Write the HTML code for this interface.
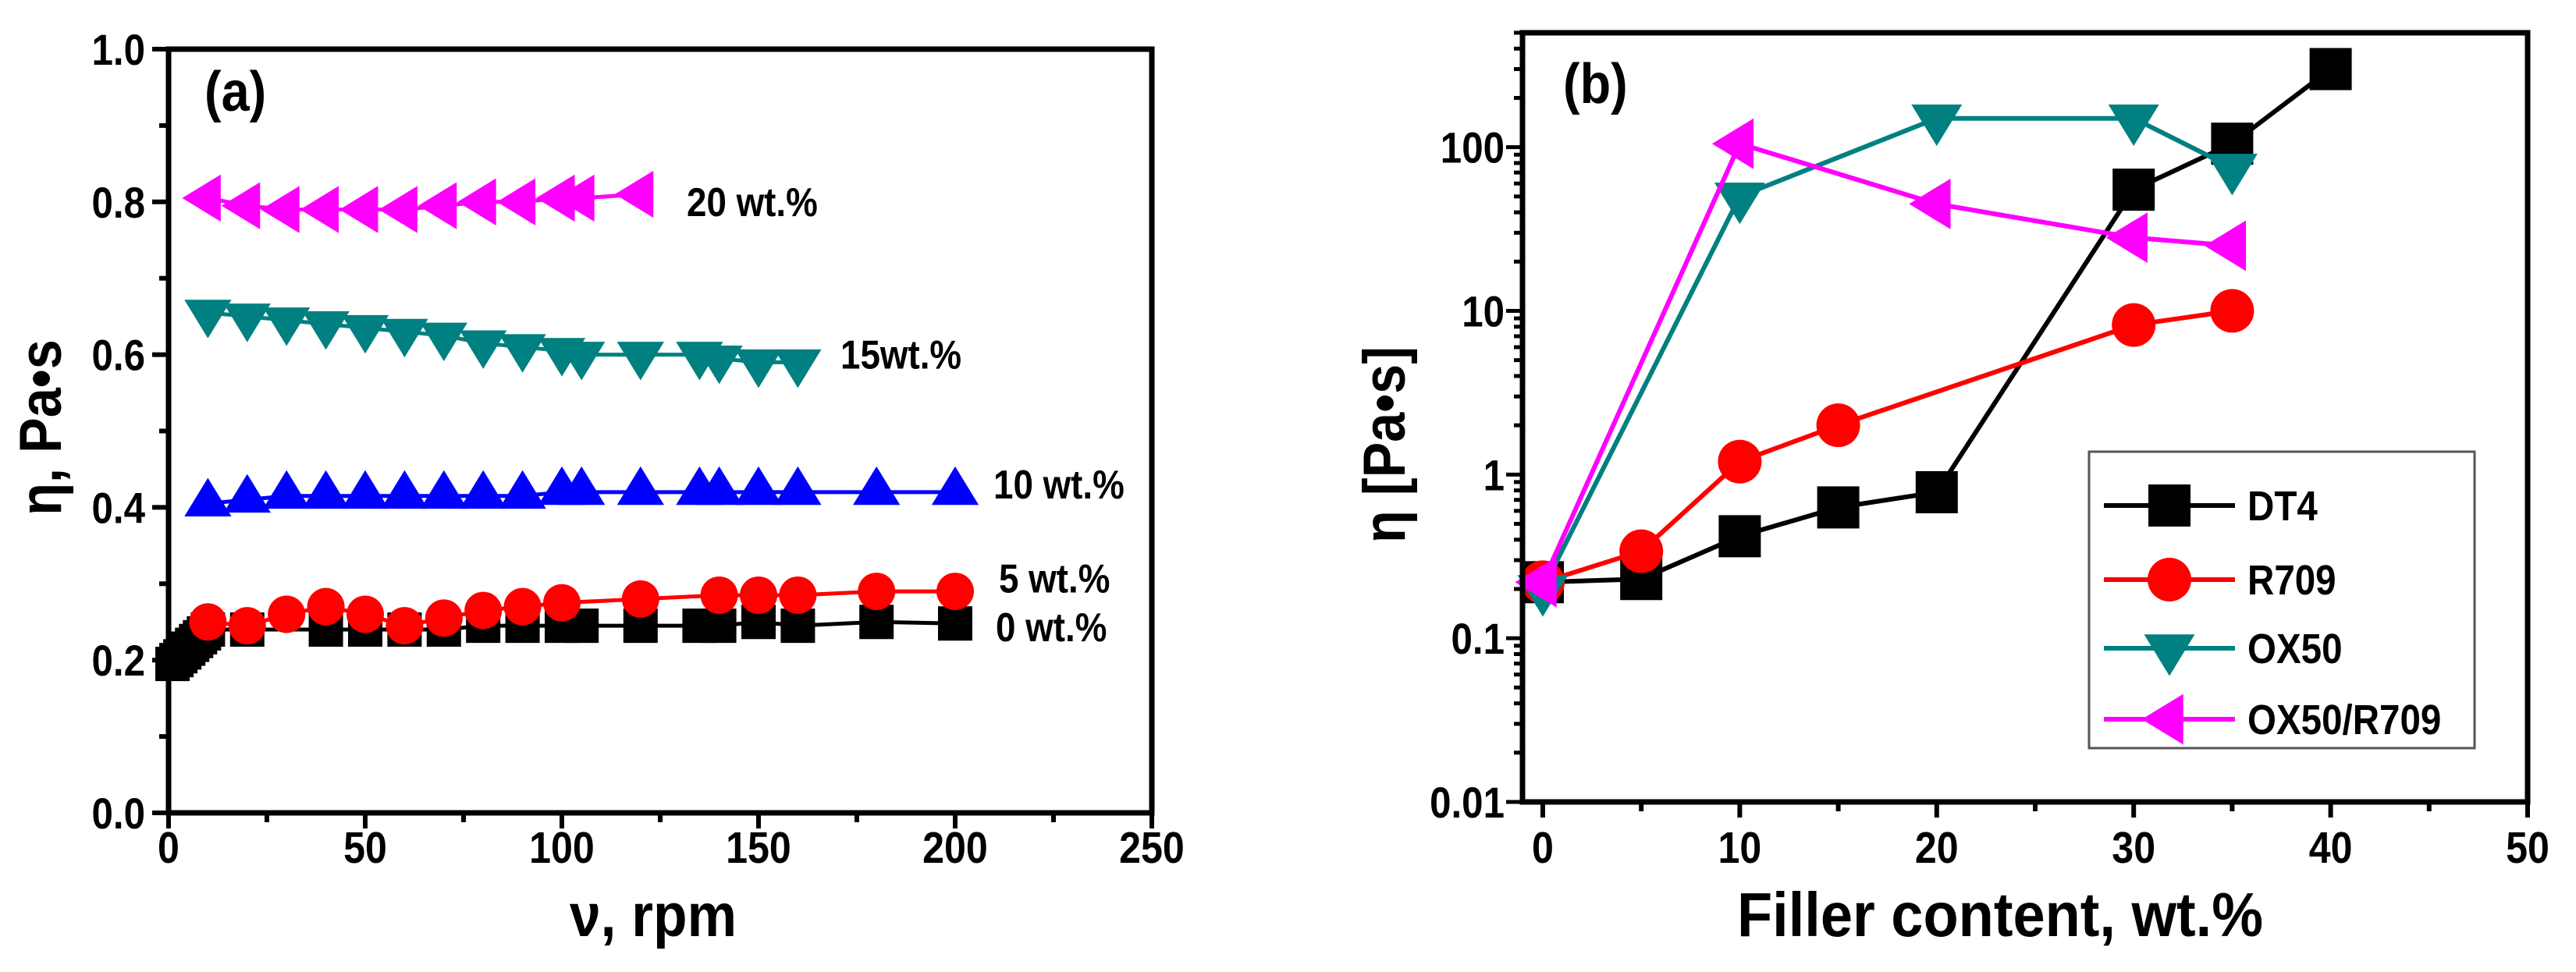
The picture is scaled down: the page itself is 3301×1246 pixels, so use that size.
<!DOCTYPE html>
<html><head><meta charset="utf-8"><style>
html,body{margin:0;padding:0;background:#fff;}
svg{display:block;}
text{font-family:"Liberation Sans Narrow","Liberation Sans",sans-serif;font-weight:bold;fill:#000;}
</style></head><body>
<svg id="chart" width="3301" height="1246" viewBox="0 0 3301 1246" xmlns="http://www.w3.org/2000/svg">
<g id="pa"></g>
<g id="pb"></g>
</svg>
<script>
// ---------- Panel (a) data ----------
const a_x0 = [1,2,3,4,5,6,7,8,9,10,20,40,50,60,70,80,90,100,105,120,135,140,150,160,180,200];
const a_y0 = [0.195,0.2,0.205,0.21,0.215,0.22,0.225,0.23,0.235,0.24,0.24,0.24,0.24,0.24,0.24,0.245,0.245,0.245,0.245,0.245,0.245,0.245,0.25,0.245,0.25,0.248];
const a_x5 = [10,20,30,40,50,60,70,80,90,100,120,140,150,160,180,200];
const a_y5 = [0.25,0.245,0.26,0.27,0.26,0.245,0.255,0.265,0.27,0.275,0.28,0.285,0.285,0.285,0.29,0.29];
const a_x10 = [10,20,30,40,50,60,70,80,90,100,105,120,135,140,150,160,180,200];
const a_y10 = [0.405,0.41,0.415,0.415,0.415,0.415,0.415,0.415,0.415,0.42,0.42,0.42,0.42,0.42,0.42,0.42,0.42,0.42];
const a_x15 = [10,20,30,40,50,60,70,80,90,100,105,120,135,140,150,160];
const a_y15 = [0.655,0.65,0.645,0.64,0.635,0.63,0.625,0.615,0.61,0.605,0.6,0.6,0.6,0.595,0.59,0.59];
const a_x20 = [10,20,30,40,50,60,70,80,90,100,105,120];
const a_y20 = [0.805,0.795,0.79,0.79,0.79,0.79,0.795,0.8,0.8,0.805,0.805,0.81];
const a_xticks = [0,50,100,150,200,250];
const a_yticks = [0,0.2,0.4,0.6,0.8,1.0];
const a_ytickLabels = ["0.0","0.2","0.4","0.6","0.8","1.0"];
// ---------- Panel (b) data ----------
const b_xDT4 = [0,5,10,15,20,30,35,40];
const b_yDT4 = [0.22,0.23,0.42,0.63,0.78,55,105,300];
const b_xR709 = [0,5,10,15,30,35];
const b_yR709 = [0.22,0.34,1.2,2.0,8.2,10];
const b_xOX50 = [0,10,20,30,35];
const b_yOX50 = [0.2,50,150,150,75];
const b_xMix = [0,10,20,30,35];
const b_yMix = [0.22,105,45,28,25];
const b_xticks = [0,10,20,30,40,50];
const b_yticks = [0.01,0.1,1,10,100];
const b_ytickLabels = ["0.01","0.1","1","10","100"];
const b_legend = ["DT4","R709","OX50","OX50/R709"];

const NS="http://www.w3.org/2000/svg";
function mk(parent,tag,attrs,txt){const e=document.createElementNS(NS,tag);for(const k in attrs)e.setAttribute(k,attrs[k]);if(txt!==undefined)e.textContent=txt;parent.appendChild(e);return e;}
function narrow(t,f){try{const w=t.getComputedTextLength();t.setAttribute('textLength',(w*f).toFixed(1));t.setAttribute('lengthAdjust','spacingAndGlyphs');}catch(e){}}

function marker(g,type,cx,cy,s,color){
  let e;
  if(type==='sq'){e=mk(g,'rect',{x:cx-s/2,y:cy-s/2,width:s,height:s,fill:color});}
  else if(type==='ci'){e=mk(g,'circle',{cx:cx,cy:cy,r:s/2,fill:color});}
  else if(type==='up'){const h=s*0.95;e=mk(g,'polygon',{points:`${cx-s*0.58},${cy+h/3} ${cx+s*0.58},${cy+h/3} ${cx},${cy-2*h/3}`,fill:color});}
  else if(type==='dn'){const h=s*0.95;e=mk(g,'polygon',{points:`${cx-s*0.58},${cy-h/3} ${cx+s*0.58},${cy-h/3} ${cx},${cy+2*h/3}`,fill:color});}
  else {const h=s*0.95;e=mk(g,'polygon',{points:`${cx+h/3},${cy-s*0.58} ${cx+h/3},${cy+s*0.58} ${cx-2*h/3},${cy}`,fill:color});}
  return e;
}

// ----- Panel A -----
(function(){
  const g=document.getElementById('pa');
  const L=216,R=1476,T=63,B=1042;
  const xs=v=>L+(v-0)/250*(R-L);
  const ys=v=>B-(v-0)/1.0*(B-T);
  const series=[
    {x:a_x0,y:a_y0,c:'#000',m:'sq',s:44,n:'series-0wt'},
    {x:a_x5,y:a_y5,c:'#ff0000',m:'ci',s:48,n:'series-5wt'},
    {x:a_x10,y:a_y10,c:'#0000ff',m:'up',s:52,n:'series-10wt'},
    {x:a_x15,y:a_y15,c:'#008080',m:'dn',s:52,n:'series-15wt'},
    {x:a_x20,y:a_y20,c:'#ff00ff',m:'lt',s:52,n:'series-20wt'}];
  series.forEach(sr=>{
    const sg=mk(g,'g',{});
    
    
    const pts=sr.x.map((v,i)=>xs(v)+','+ys(sr.y[i])).join(' ');
    mk(sg,'polyline',{points:pts,fill:'none',stroke:sr.c,'stroke-width':5});
    sr.x.forEach((v,i)=>{const m=marker(sg,sr.m,xs(v),ys(sr.y[i]),sr.s,sr.c);
      
      });
  });
  const fr=mk(g,'rect',{x:L,y:T,width:R-L,height:B-T,fill:'none',stroke:'#000','stroke-width':7});
  
  
  for(let v=0;v<=250;v+=25){const maj=v%50===0;mk(g,'line',{x1:xs(v),x2:xs(v),y1:B,y2:B+(maj?20:12),stroke:'#000','stroke-width':6});}
  a_xticks.forEach(v=>{const t=mk(g,'text',{x:xs(v),y:1106,'font-size':57,'text-anchor':'middle'},String(v));
    
    
    narrow(t,0.88);});
  for(let k=0;k<=10;k++){const v=k/10;const maj=k%2===0;mk(g,'line',{x1:L,x2:L-(maj?21:12),y1:ys(v),y2:ys(v),stroke:'#000','stroke-width':6});}
  a_yticks.forEach((v,i)=>{const t=mk(g,'text',{x:186,y:ys(v)+20,'font-size':56,'text-anchor':'end'},a_ytickLabels[i]);
    
    
    narrow(t,0.88);});
  const xt=mk(g,'text',{x:837,y:1200,'font-size':78,'text-anchor':'middle',textLength:214,lengthAdjust:'spacingAndGlyphs'},'ν, rpm');
  
  
  const yt=mk(g,'text',{x:0,y:0,'font-size':76,'text-anchor':'middle',transform:'translate(78,548) rotate(-90)'},'η, Pa•s');
  
  
  narrow(yt,0.9);
  const pl=mk(g,'text',{x:262,y:142,'font-size':72},'(a)');
  
  
  narrow(pl,0.9);
  const labs=[['20 wt.%',880,ys(0.8)+18],['15wt.%',1077,ys(0.6)+18],['10 wt.%',1273,ys(0.43)+18],['5 wt.%',1280,ys(0.307)+18],['0 wt.%',1276,ys(0.243)+18]];
  labs.forEach(l=>{const t=mk(g,'text',{x:l[1],y:l[2],'font-size':52},l[0]);
    
    
    narrow(t,0.88);});
})();

// ----- Panel B -----
(function(){
  const g=document.getElementById('pb');
  const L=1951,R=3239,T=42,B=1028;
  const xs=v=>1977+v*(R-1977)/50;
  const lmin=Math.log10(0.01),lmax=Math.log10(500);
  const ys=v=>B-(Math.log10(v)-lmin)/(lmax-lmin)*(B-T);
  const series=[
    {x:b_xDT4,y:b_yDT4,c:'#000',m:'sq',s:54,n:'series-dt4'},
    {x:b_xR709,y:b_yR709,c:'#ff0000',m:'ci',s:56,n:'series-r709'},
    {x:b_xOX50,y:b_yOX50,c:'#008080',m:'dn',s:56,n:'series-ox50'},
    {x:b_xMix,y:b_yMix,c:'#ff00ff',m:'lt',s:56,n:'series-ox50-r709'}];
  series.forEach(sr=>{
    const sg=mk(g,'g',{});
    
    
    const pts=sr.x.map((v,i)=>xs(v)+','+ys(sr.y[i])).join(' ');
    mk(sg,'polyline',{points:pts,fill:'none',stroke:sr.c,'stroke-width':6});
    sr.x.forEach((v,i)=>{const m=marker(sg,sr.m,xs(v),ys(sr.y[i]),sr.s,sr.c);
      
      });
  });
  const fr=mk(g,'rect',{x:L,y:T,width:R-L,height:B-T,fill:'none',stroke:'#000','stroke-width':7});
  
  
  for(let v=0;v<=50;v+=5){const maj=v%10===0;mk(g,'line',{x1:xs(v),x2:xs(v),y1:B,y2:B+(maj?20:12),stroke:'#000','stroke-width':6});}
  b_xticks.forEach(v=>{const t=mk(g,'text',{x:xs(v),y:1106,'font-size':57,'text-anchor':'middle'},String(v));
    
    
    narrow(t,0.88);});
  for(let d=-2;d<=2;d++){for(let k=1;k<=9;k++){const v=k*Math.pow(10,d);if(v>500)break;
    mk(g,'line',{x1:L,x2:L-(k===1?21:11),y1:ys(v),y2:ys(v),stroke:'#000','stroke-width':5});}}
  b_yticks.forEach((v,i)=>{const t=mk(g,'text',{x:1928,y:ys(v)+20,'font-size':56,'text-anchor':'end'},b_ytickLabels[i]);
    
    
    narrow(t,0.88);});
  const xt=mk(g,'text',{x:2563,y:1200,'font-size':80,'text-anchor':'middle',textLength:674,lengthAdjust:'spacingAndGlyphs'},'Filler content, wt.%');
  
  
  const yt=mk(g,'text',{x:0,y:0,'font-size':76,'text-anchor':'middle',transform:'translate(1800,570) rotate(-90)'},'η [Pa•s]');
  
  
  narrow(yt,0.9);
  const pl=mk(g,'text',{x:2003,y:132,'font-size':72},'(b)');
  
  
  narrow(pl,0.9);
  const lg=mk(g,'g',{});
  
  
  mk(lg,'rect',{x:2677,y:579,width:494,height:380,fill:'#fff',stroke:'#555','stroke-width':3});
  const ly=[648,743,831,922];
  series.forEach((sr,i)=>{
    const eg=mk(lg,'g',{});
    
    
    mk(eg,'line',{x1:2696,x2:2864,y1:ly[i],y2:ly[i],stroke:sr.c,'stroke-width':6});
    marker(eg,sr.m,2780,ly[i],sr.s,sr.c);
    const t=mk(eg,'text',{x:2880,y:ly[i]+19,'font-size':54},b_legend[i]);
    narrow(t,0.88);
  });
})();
</script>
</body></html>
